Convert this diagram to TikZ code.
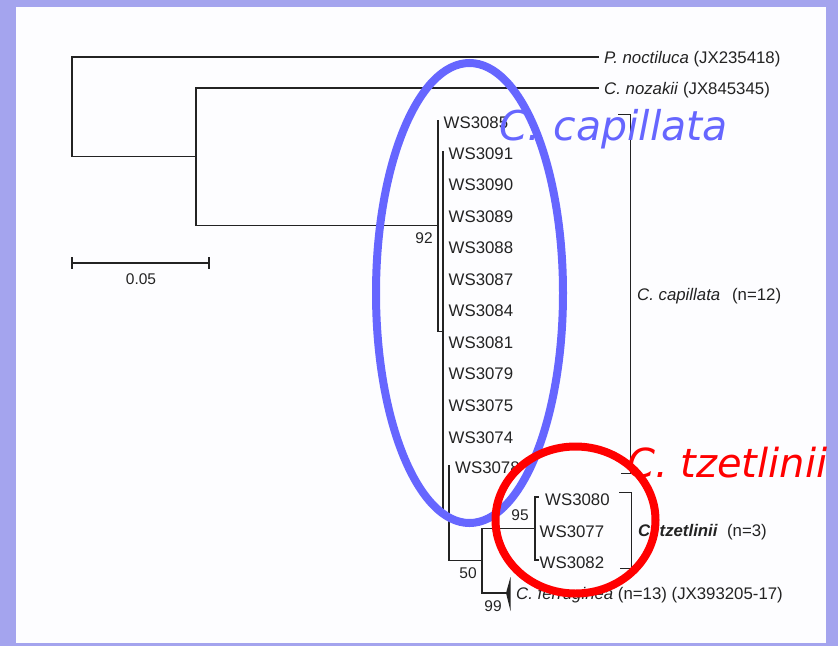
\documentclass[tikz,border=0pt]{standalone}
\usepackage{fontspec}
\setmainfont{Liberation Sans}
\newfontfamily\notefont{DejaVu Sans}
\definecolor{lilac}{RGB}{164,164,238}
\definecolor{panel}{RGB}{253,253,255}
\definecolor{ink}{RGB}{35,35,35}
\definecolor{ringblue}{RGB}{102,102,255}
\definecolor{ringred}{RGB}{255,0,0}
\begin{document}
\begin{tikzpicture}[x=1pt,y=-1pt,
  branch/.style={draw=ink,line width=1.2pt},
  taxon/.style={anchor=base west,inner sep=0pt,text=ink,font=\fontsize{16.8}{20}\selectfont},
  support/.style={anchor=base,inner sep=0pt,text=ink,font=\fontsize{15.5}{18}\selectfont},
  ring/.style={line width=8pt},
  callout/.style={anchor=base west,inner sep=0pt,font=\notefont\itshape\fontsize{40}{48}\selectfont}]
\useasboundingbox (0,0) rectangle (838,646);
% slide background and white panel
\fill[lilac] (0,0) rectangle (838,646);
\fill[panel] (15.5,7) rectangle (826,643);

% internal nodes and tip ends of the tree
\coordinate (root)  at (72,107);
\coordinate (tipP)  at (599,57);
\coordinate (nA)    at (196,156.5);
\coordinate (tipN)  at (599,88);
\coordinate (n92)   at (438,225.5);
\coordinate (c3085) at (438,119.5);
\coordinate (nB)    at (443,331.5);
\coordinate (c3091) at (443,151);
\coordinate (nC)    at (449,512.5);
\coordinate (c3078) at (449,465);
\coordinate (n50)   at (482,560.75);
\coordinate (n95)   at (535,528.5);
\coordinate (c3080) at (539,497);
\coordinate (c3082) at (539,560);
\coordinate (cFerr) at (506,593);

% branches
\draw[branch] (root) |- (tipP);
\draw[branch] (root) |- (nA);
\draw[branch] (nA) |- (tipN);
\draw[branch] (nA) |- (n92);
\draw[branch] (n92) |- (c3085);
\draw[branch] (n92) |- (nB);
\draw[branch] (nB) |- (c3091);
\draw[branch] (nB) |- (nC);
\draw[branch] (nC) |- (c3078);
\draw[branch] (nC) |- (n50);
\draw[branch] (n50) |- (n95);
\draw[branch] (n50) |- (cFerr);
\draw[branch] (n95) |- (c3080);
\draw[branch] (n95) |- (c3082);
% collapsed clade
\fill[ink] (cFerr) -- ++(4.5,-16) -- ++(0,34) -- cycle;

% taxon labels
\node[taxon] (labP) at (604,63) {\textit{P. noctiluca} (JX235418)};
\node[taxon] (labN) at (604,94) {\textit{C. nozakii} (JX845345)};
\node[taxon] (lab3085) at (443.5,128) {WS3085};
\foreach \id/\k in {3091/0,3090/1,3089/2,3088/3,3087/4,3084/5,3081/6,3079/7,3075/8,3074/9}
  \node[taxon] (lab\id) at (448.5,{159+31.56*\k}) {WS\id};
\node[taxon] (lab3078) at (455,473) {WS3078};
\node[taxon] (lab3080) at (545,505) {WS3080};
\node[taxon] (lab3077) at (539.5,537) {WS3077};
\node[taxon] (lab3082) at (539.5,568) {WS3082};
\node[taxon] (labF) at (516,599) {\textit{C. ferruginea} (n=13) (JX393205-17)};

% support values
\node[support] (b92) at (424,243.5) {92};
\node[support] (b95) at (520,520.5) {95};
\node[support] (b50) at (468,578.5) {50};
\node[support] (b99) at (493,611.5) {99};

% clade brackets
\draw[branch,line width=1pt] (618,114) -- (630,114) -- (630,473) -- (621,473);
\draw[branch,line width=1pt] (619,492) -- (631,492) -- (631,568) -- (620,568);
\node[taxon] (cladeCap) at (637,300) {\textit{C. capillata}\hspace{0.7em}(n=12)};
\node[taxon] (cladeTz) at (638,536) {\textbf{\textit{C. tzetlinii}}\hspace{0.55em}(n=3)};

% scale bar
\draw[branch] (72,263) -- (209,263);
\draw[branch] (72,257) -- (72,269);
\draw[branch] (209,257) -- (209,269);
\node[support] (scale) at (141,284) {0.05};

% highlighted groups
\draw[ring,ringblue] (469.5,293) ellipse [x radius=93.5pt, y radius=230pt];
\node[callout,text=ringblue,font=\notefont\itshape\fontsize{41}{48}\selectfont] (noteCap) at (499,140) {C. capillata};
\draw[ring,ringred] (575.5,520) ellipse [x radius=80pt, y radius=73.5pt];
\node[callout,text=ringred] (noteTz) at (627,477) {C. tzetlinii};
\end{tikzpicture}
\end{document}
